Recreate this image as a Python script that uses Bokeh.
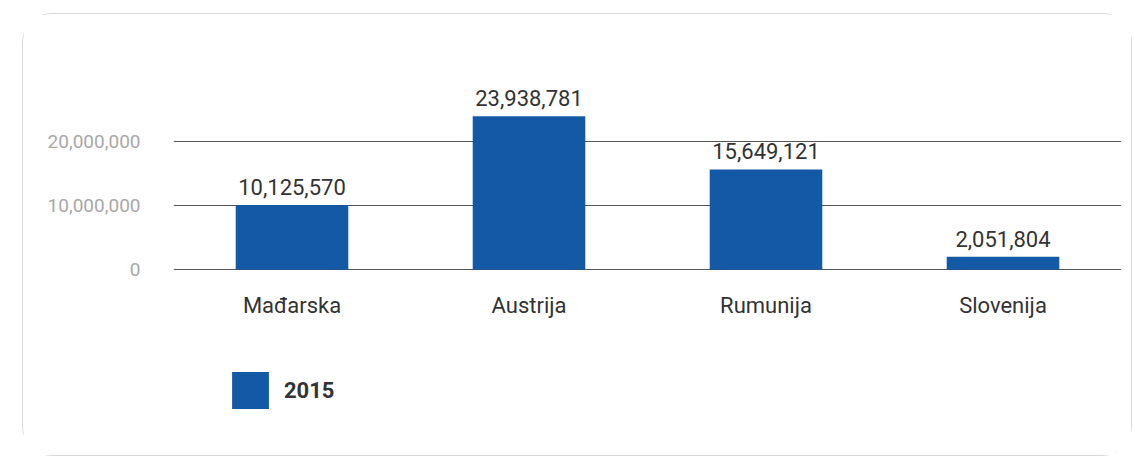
from bokeh.plotting import figure
from bokeh.models import ColumnDataSource, Legend, LegendItem, FixedTicker, NumeralTickFormatter, LabelSet
from bokeh.core.properties import value
from bokeh.embed import file_html
from bokeh.resources import INLINE

countries = ["Mađarska", "Austrija", "Rumunija", "Slovenija"]
values_2015 = [10125570, 23938781, 15649121, 2051804]
value_labels = ["10,125,570", "23,938,781", "15,649,121", "2,051,804"]
y_ticks = [0, 10000000, 20000000]
series_name = "2015"

FONT = "Roboto"
BAR_COLOR = "#1459A5"

src = ColumnDataSource(dict(x=countries, y=values_2015, lab=value_labels))

p = figure(x_range=countries, y_range=(-28300000, 32000000),
           frame_width=948, frame_height=387,
           min_border_left=150, min_border_top=50, min_border_right=10, min_border_bottom=4,
           output_backend="svg", toolbar_location=None,
           background_fill_color="white", border_fill_color="white")
p.margin = (13, 0, 0, 22)
p.outline_line_color = None
p.styles = {"border": "1px solid #d8d8d8", "border-radius": "30px"}

bars = p.vbar(x="x", top="y", bottom=0, width=0.475, source=src, color=BAR_COLOR, line_color=None)

labels = LabelSet(x="x", y="y", text="lab", source=src, text_align="center",
                  text_baseline="bottom", y_offset=10, text_font=value(FONT),
                  text_font_size="22px", text_color="#333333")
p.add_layout(labels)

p.yaxis.ticker = FixedTicker(ticks=y_ticks)
p.yaxis.formatter = NumeralTickFormatter(format="0,0")
p.yaxis.axis_line_color = None
p.yaxis.major_tick_line_color = None
p.yaxis.minor_tick_line_color = None
p.yaxis.major_label_text_color = "#a8a8a8"
p.yaxis.major_label_text_font = FONT
p.yaxis.major_label_text_font_size = "19px"
p.yaxis.major_label_standoff = 27

p.xaxis.fixed_location = 0
p.xaxis.axis_line_color = None
p.xaxis.major_tick_line_color = None
p.xaxis.minor_tick_line_color = None
p.xaxis.major_label_text_color = "#333333"
p.xaxis.major_label_text_font = FONT
p.xaxis.major_label_text_font_size = "22px"
p.xaxis.major_label_standoff = 17

p.xgrid.grid_line_color = None
p.ygrid.grid_line_color = "#555555"
p.ygrid.grid_line_width = 1

legend = Legend(items=[LegendItem(label=series_name, renderers=[bars])],
                location=(54, 38), glyph_width=46, glyph_height=46,
                label_standoff=11, padding=0, margin=0, border_line_color=None,
                background_fill_alpha=0, label_text_font=FONT,
                label_text_font_size="22px", label_text_font_style="bold",
                label_text_color="#333333")
p.add_layout(legend)

open("out.html", "w").write(file_html(p, INLINE))
